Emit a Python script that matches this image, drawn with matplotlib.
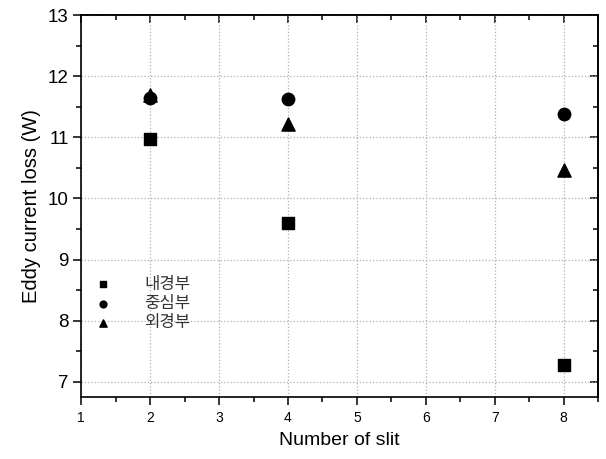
import matplotlib
matplotlib.use('Agg')
import matplotlib.pyplot as plt
from matplotlib.ticker import MultipleLocator, NullFormatter

plt.rcParams['font.family'] = ['Liberation Sans', 'Noto Sans CJK KR', 'DejaVu Sans']

# 데이터
slits = [2, 4, 8]
inner = [10.97, 9.60, 7.28]    # 내경부
center = [11.65, 11.62, 11.39] # 중심부
outer = [11.70, 11.22, 10.47]  # 외경부
names = ['내경부', '중심부', '외경부']

fig = plt.figure(figsize=(6.06, 4.59), dpi=100)
ax = fig.add_axes([0.134, 0.135, 0.853, 0.832])

ax.scatter(slits, inner, marker='s', s=70, c='black', label=names[0], zorder=3)
ax.scatter(slits, center, marker='o', s=80, c='black', label=names[1], zorder=3)
ax.scatter(slits, outer, marker='^', s=90, c='black', label=names[2], zorder=3)

ax.set_xlim(1, 8.5)
ax.set_ylim(6.75, 13)
for a in [ax.xaxis, ax.yaxis]:
    a.set_major_locator(MultipleLocator(1))
    a.set_minor_locator(MultipleLocator(0.5))
ax.tick_params(which='both', direction='out', width=1.1)
ax.tick_params(which='major', length=6)
ax.tick_params(which='minor', length=3.5)
ax.tick_params(axis='x', labelsize=10, pad=4)
ax.tick_params(axis='y', labelsize=13.5, pad=3)
ax.grid(True, which='major', linestyle=':', color='#b0b0b0', linewidth=0.9)
for sp in ax.spines.values():
    sp.set_linewidth(1.2)

# 위/오른쪽 눈금 (안쪽)
top = ax.secondary_xaxis('top')
right = ax.secondary_yaxis('right')
for s, a in [(top, top.xaxis), (right, right.yaxis)]:
    a.set_major_locator(MultipleLocator(1))
    a.set_minor_locator(MultipleLocator(0.5))
    a.set_major_formatter(NullFormatter())
    s.tick_params(which='both', direction='in', width=1.1)
    s.tick_params(which='major', length=6)
    s.tick_params(which='minor', length=3.5)
    s.spines[:].set_linewidth(1.2)

ax.set_xlabel('Number of slit', fontsize=14, labelpad=5)
ax.set_ylabel('Eddy current loss (W)', fontsize=14.5, labelpad=5)

leg = ax.legend(loc='center left', bbox_to_anchor=(-0.02, 0.245), frameon=False,
                fontsize=12, markerscale=0.55, handletextpad=1.5, labelspacing=0.25)
for t in leg.get_texts():
    t.set_color('#333333')

fig.savefig('out.png', dpi=100)
